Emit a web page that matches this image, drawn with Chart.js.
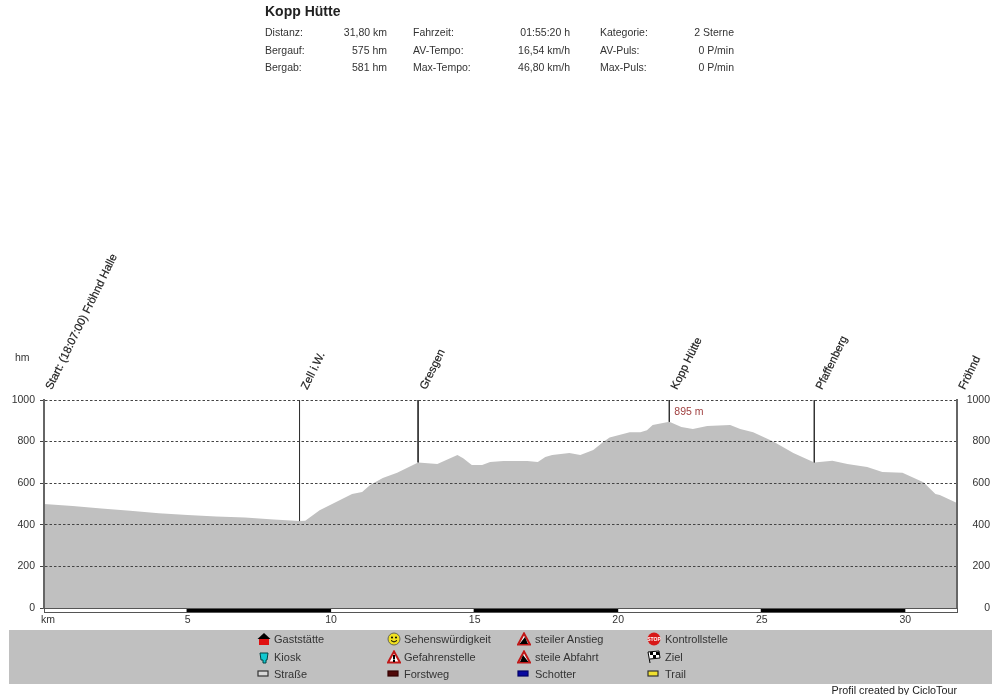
<!DOCTYPE html>
<html lang="de">
<head>
<meta charset="utf-8">
<title>Kopp Hütte</title>
<script src="https://cdn.jsdelivr.net/npm/chart.js@4/dist/chart.umd.js"></script>
<style>
    html, body { margin: 0; padding: 0; background: #fff; }
    body { position: relative; width: 1000px; height: 695px; overflow: hidden;
           font: 10.5px "Liberation Sans", Arial, sans-serif; color: #333; }
    canvas { position: absolute; left: 0; top: 0; }
    .txt { position: absolute; white-space: nowrap; line-height: 12px; }
    .val { text-align: right; }
    .leg { font-size: 11px; }
    #title { left: 265px; top: 4px; font-weight: bold; font-size: 14px; line-height: 15px; color: #222; }
    #panel { position: absolute; left: 9px; top: 630px; width: 983px; height: 54px; background: #c0c0c0; }
    #credit { right: 43px; top: 684px; color: #222; font-size: 10.75px; }
    .icon { position: absolute; width: 14px; height: 14px; }
</style>
</head>
<body>
<canvas id="profile" width="1000" height="695"></canvas>
<div id="title" class="txt">Kopp Hütte</div>
<div id="panel"></div>
<div id="credit" class="txt">Profil created by CicloTour</div>
<script>
// Profile data
const distanceKm = [0, 1, 2, 3, 4, 5, 6, 7, 8, 8.9, 9.1, 9.6, 10.07, 10.4, 10.73, 11.08, 11.36, 11.8, 12.3, 13.03, 13.7, 14.4, 14.6, 14.9, 15.26, 15.54, 16, 16.83, 17.2, 17.46, 17.7, 18.3, 18.68, 19.13, 19.5, 19.7, 20.4, 20.77, 21, 21.2, 21.78, 22.2, 22.6, 23.1, 23.9, 24.25, 24.7, 25.4, 26.1, 26.83, 27.46, 27.98, 28.67, 29.2, 29.9, 30.63, 31.05, 31.2, 31.8];
const elevation = [500, 490, 478, 468, 455, 447, 440, 435, 425, 418, 420, 470, 503, 525, 548, 558, 591, 625, 650, 700, 692, 735, 720, 688, 688, 702, 707, 707, 702, 726, 735, 745, 735, 760, 800, 820, 845, 845, 855, 880, 895, 870, 860, 875, 880, 860, 845, 800, 745, 700, 708, 692, 678, 654, 650, 605, 548, 543, 505];

// Waypoints along the route
const waypointNames = ['Start: (18:07:00) Fröhnd Halle', 'Zell i.W.', 'Gresgen', 'Kopp Hütte', 'Pfaffenberg', 'Fröhnd'];
const waypointKm = [0, 8.9, 13.03, 21.78, 26.83, 31.8];
const waypointElevation = [500, 418, 700, 895, 700, 505];

const peakLabel = '895 m';
const peakKm = 21.78;
const peakLabelElevation = 943;

// Black kilometre stripes below the axis
const stripeStart = [5, 15, 25];
const stripeEnd = [10, 20, 30];

// Header
const headerLabels = [
    ['Distanz:', 'Bergauf:', 'Bergab:'],
    ['Fahrzeit:', 'AV-Tempo:', 'Max-Tempo:'],
    ['Kategorie:', 'AV-Puls:', 'Max-Puls:']
];
const headerValues = [
    ['31,80 km', '575 hm', '581 hm'],
    ['01:55:20 h', '16,54 km/h', '46,80 km/h'],
    ['2 Sterne', '0 P/min', '0 P/min']
];

// Legend
const legendNames = [
    ['Gaststätte', 'Kiosk', 'Straße'],
    ['Sehenswürdigkeit', 'Gefahrenstelle', 'Forstweg'],
    ['steiler Anstieg', 'steile Abfahrt', 'Schotter'],
    ['Kontrollstelle', 'Ziel', 'Trail']
];

const triangle = (inner) => `<path d="M7 1.5 L13 12.5 L1 12.5 Z" fill="#fff" stroke="#c01818" stroke-width="2"/>${inner}`;
const roadIcon = (color, border) => `<rect x="1" y="4" width="10" height="5" fill="${color}" stroke="${border}" stroke-width="1.2"/>`;
const legendIcons = [
    [
        '<path d="M7 1 L13.5 7 L0.5 7 Z" fill="#000"/><rect x="2" y="7" width="10" height="6" fill="#e01010"/>',
        '<path d="M3 3 H11 L10 10 H9 V13 H6 V10 H4 Z" fill="#10c8d0" stroke="#044" stroke-width="1"/>',
        roadIcon('#d8d8d8', '#333')
    ],
    [
        '<circle cx="7" cy="7" r="6" fill="#f0e020" stroke="#665" stroke-width="1"/><circle cx="5" cy="5.5" r="1" fill="#000"/><circle cx="9" cy="5.5" r="1" fill="#000"/><path d="M4 8.5 Q7 11.5 10 8.5" fill="none" stroke="#000"/>',
        triangle('<rect x="6" y="5" width="2" height="4.5" fill="#000"/><rect x="6" y="10" width="2" height="2" fill="#000"/>'),
        roadIcon('#500808', '#300')
    ],
    [
        triangle('<path d="M2.5 12 L8 5 L11 12 Z" fill="#000"/>'),
        triangle('<path d="M3 12 L6 5 L11.5 12 Z" fill="#000"/>'),
        roadIcon('#0808a0', '#006')
    ],
    [
        '<circle cx="7" cy="7" r="6.5" fill="#d81818"/><text x="7" y="9" font-size="5" font-weight="bold" fill="#fff" text-anchor="middle" font-family="Liberation Sans">STOP</text>',
        '<path d="M3 13 L1 2 L12 1 L13 8 L3 9" fill="#fff" stroke="#000"/><rect x="3" y="2" width="3" height="3" fill="#000"/><rect x="9" y="2" width="3" height="3" fill="#000"/><rect x="6" y="5" width="3" height="3" fill="#000"/>',
        roadIcon('#f0e030', '#333')
    ]
];

// Header columns and legend positions
const headerRowTops = [26, 44, 61];
const headerLabelLeft = [265, 413, 600];
const headerValueRight = [387, 570, 734];
const legendRowTops = [633, 651, 668];
const legendIconLeft = [257, 387, 517, 647];
const legendTextLeft = [274, 404, 535, 665];

const addText = (text, left, top, right, extraClass) => {
    const el = document.createElement('div');
    el.className = (right === undefined ? 'txt' : 'txt val') + (extraClass ? ' ' + extraClass : '');
    el.textContent = text;
    el.style.top = top + 'px';
    if (right === undefined) el.style.left = left + 'px';
    else el.style.right = (1000 - right) + 'px';
    document.body.appendChild(el);
};

headerLabels.forEach((col, c) => col.forEach((label, r) => {
    addText(label, headerLabelLeft[c], headerRowTops[r]);
    addText(headerValues[c][r], 0, headerRowTops[r], headerValueRight[c]);
}));

legendNames.forEach((col, c) => col.forEach((name, r) => {
    addText(name, legendTextLeft[c], legendRowTops[r], undefined, 'leg');
    const icon = document.createElementNS('http://www.w3.org/2000/svg', 'svg');
    icon.setAttribute('class', 'icon');
    icon.setAttribute('viewBox', '0 0 14 14');
    icon.style.left = legendIconLeft[c] + 'px';
    icon.style.top = (legendRowTops[r] - 1) + 'px';
    icon.innerHTML = legendIcons[c][r];
    document.body.appendChild(icon);
}));

// Rotated waypoint names, peak label, km stripe
const profileDecor = {
    id: 'profileDecor',
    afterDraw(chart) {
        const { ctx, scales: { x, y } } = chart;
        const bottom = y.getPixelForValue(0);
        ctx.save();

        // km stripe
        ctx.fillStyle = '#fff';
        ctx.fillRect(x.left, bottom, x.width, 4);
        ctx.fillStyle = '#000';
        stripeStart.forEach((km, i) => {
            const from = x.getPixelForValue(km);
            ctx.fillRect(from - 1, bottom + 1, x.getPixelForValue(stripeEnd[i]) - from + 1, 4);
        });
        ctx.strokeStyle = '#555';
        ctx.lineWidth = 1;
        ctx.strokeRect(x.left + 0.5, bottom + 0.5, x.width, 4);

        // Waypoint names
        ctx.fillStyle = '#222';
        ctx.strokeStyle = '#222';
        ctx.lineWidth = 0.2;
        ctx.font = '11.3px "Liberation Sans"';
        ctx.textAlign = 'left';
        ctx.textBaseline = 'middle';
        waypointNames.forEach((name, i) => {
            ctx.save();
            ctx.translate(x.getPixelForValue(waypointKm[i]) + 5, 389);
            ctx.rotate(-64 * Math.PI / 180);
            ctx.fillText(name, 0, 0);
            ctx.strokeText(name, 0, 0);
            ctx.restore();
        });

        // Peak label
        ctx.fillStyle = '#a04040';
        ctx.font = '10.5px "Liberation Sans"';
        ctx.fillText(peakLabel, x.getPixelForValue(peakKm) + 5, y.getPixelForValue(peakLabelElevation));

        // Axis unit labels
        ctx.fillStyle = '#333';
        ctx.fillText('hm', 15, 358);
        ctx.fillText('km', 41, 620);
        ctx.restore();
    }
};

const profilePoints = distanceKm.map((km, i) => ({ x: km, y: elevation[i] }));

const waypointDatasets = waypointKm.map((km, i) => ({
    label: waypointNames[i],
    data: [{ x: km, y: 1000 }, { x: km, y: waypointElevation[i] }],
    borderColor: '#333',
    borderWidth: 1,
    pointRadius: 0,
    fill: false
}));

const fixedWidth = (size) => (scale) => { scale.width = size; };
const tickFont = { family: '"Liberation Sans"', size: 10.5 };
const plainNumber = (value) => String(value);

new Chart(document.getElementById('profile').getContext('2d'), {
    type: 'line',
    data: {
        datasets: [
            ...waypointDatasets,
            {
                label: 'Höhe',
                data: profilePoints,
                borderWidth: 0,
                backgroundColor: '#c0c0c0',
                fill: 'origin',
                tension: 0,
                pointRadius: 0
            }
        ]
    },
    plugins: [profileDecor],
    options: {
        responsive: false,
        devicePixelRatio: 1,
        animation: false,
        layout: { padding: { top: 400, right: 10, bottom: 0, left: 0 } },
        plugins: { legend: { display: false }, tooltip: { enabled: false } },
        scales: {
            x: {
                type: 'linear',
                min: 0,
                max: 31.8,
                afterFit: (scale) => { scale.height = 87; },
                grid: { display: false },
                border: { display: false },
                ticks: {
                    stepSize: 5,
                    includeBounds: false,
                    maxRotation: 0,
                    padding: -2,
                    color: '#333',
                    font: tickFont,
                    callback: (value) => (value === 0 ? '' : value)
                }
            },
            y: {
                min: 0,
                max: 1000,
                afterFit: fixedWidth(44),
                grid: {
                    z: 1,
                    color: '#444',
                    lineWidth: 1,
                    tickColor: '#444',
                    tickLength: 4,
                    tickBorderDash: []
                },
                // border has to stay above the grid layer, it reads the position the grid computes
                border: { display: true, color: '#666', width: 2, dash: [2.5, 2], z: 2 },
                ticks: { stepSize: 200, padding: 5, color: '#333', font: tickFont, callback: plainNumber }
            },
            y2: {
                position: 'right',
                min: 0,
                max: 1000,
                afterFit: fixedWidth(33),
                grid: { drawOnChartArea: false, drawTicks: false },
                border: { display: true, color: '#666', width: 2, z: 2 },
                ticks: { stepSize: 200, crossAlign: 'far', padding: 8, color: '#333', font: tickFont, callback: plainNumber }
            }
        }
    }
});
</script>
</body>
</html>
